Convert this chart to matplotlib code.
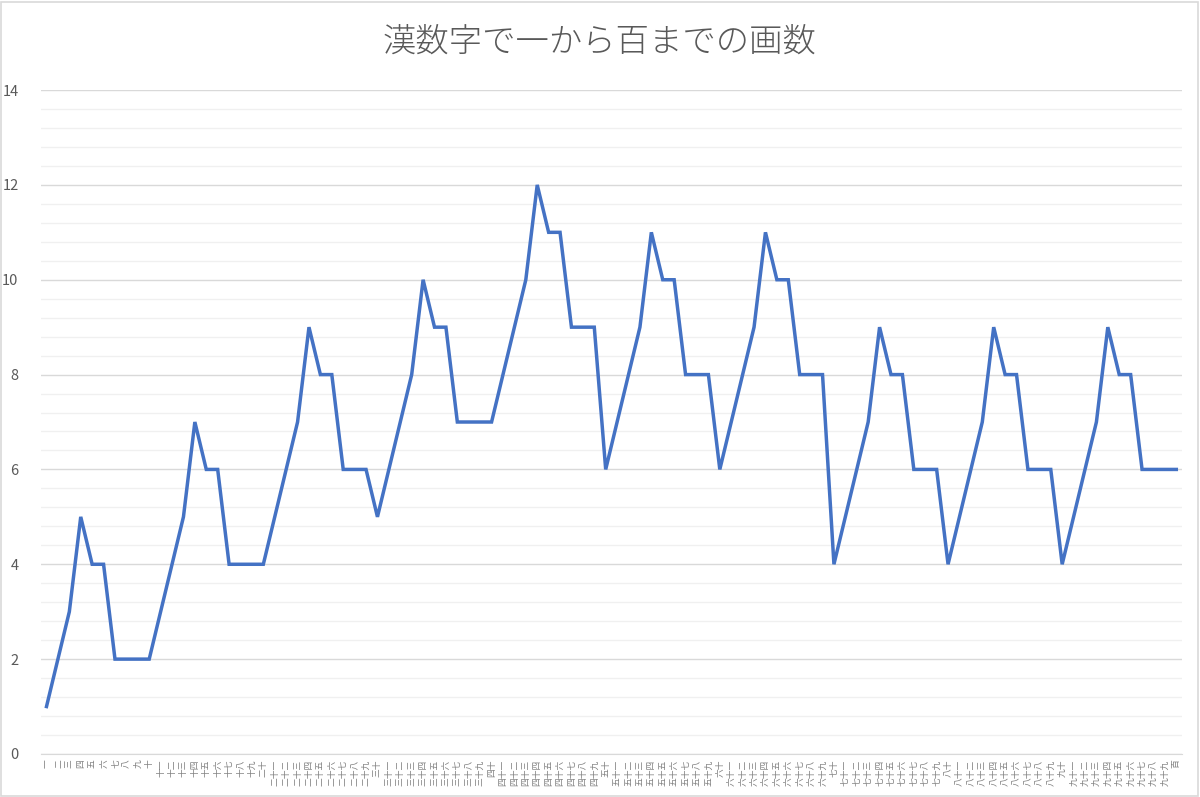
import numpy as np
import matplotlib.pyplot as plt
from matplotlib.patches import Rectangle

plt.rcParams['font.family'] = ['Noto Sans CJK JP', 'DejaVu Sans']

digits = ["", "一", "二", "三", "四", "五", "六", "七", "八", "九"]
labels = []
for n in range(1, 100):
    t, o = divmod(n, 10)
    s = ""
    if t > 0:
        s = ("" if t == 1 else digits[t]) + "十"
    s += digits[o]
    labels.append(s)
labels.append("百")

# stroke counts
strokes = [1, 2, 3, 5, 4, 4, 2, 2, 2, 2,
           3, 4, 5, 7, 6, 6, 4, 4, 4, 4,
           5, 6, 7, 9, 8, 8, 6, 6, 6, 5,
           6, 7, 8, 10, 9, 9, 7, 7, 7, 7,
           8, 9, 10, 12, 11, 11, 9, 9, 9, 6,
           7, 8, 9, 11, 10, 10, 8, 8, 8, 6,
           7, 8, 9, 11, 10, 10, 8, 8, 8, 4,
           5, 6, 7, 9, 8, 8, 6, 6, 6, 4,
           5, 6, 7, 9, 8, 8, 6, 6, 6, 4,
           5, 6, 7, 9, 8, 8, 6, 6, 6, 6]

fig = plt.figure(figsize=(12, 7.97), dpi=100)
ax = fig.add_axes([0.034, 0.054, 0.951, 0.833])

x = np.arange(1, 101)
ax.plot(x, strokes, color='#4472C4', lw=2.5, solid_joinstyle='miter', zorder=3)

ax.set_xlim(0.5, 100.5)
ax.set_ylim(0, 14)
ax.set_yticks(np.arange(0, 15, 2))
ax.set_yticks(np.arange(0, 14.01, 0.4), minor=True)
ax.grid(axis='y', which='major', color='#D9D9D9', lw=1)
ax.grid(axis='y', which='minor', color='#F0F0F0', lw=1)
ax.set_axisbelow(True)
for sp in ['top', 'right', 'left']:
    ax.spines[sp].set_visible(False)
ax.spines['bottom'].set_color('#D9D9D9')
ax.tick_params(axis='y', which='both', length=0, labelsize=10.5, labelcolor='#595959', pad=16)
ax.tick_params(axis='x', length=0, pad=4)
ax.set_xticks(x)
ax.set_xticklabels(labels, rotation=90, fontsize=6.3, color='#7F7F7F', va='top', ha='center')

fig.text(0.5, 0.947, "漢数字で一から百までの画数", ha='center', va='center',
         fontsize=24, color='#595959', fontweight='light')

fig.patches.append(Rectangle((0.001, 0.001), 0.997, 0.997, transform=fig.transFigure,
                             fill=False, edgecolor='#D9D9D9', lw=1.2))

fig.savefig('out.png', dpi=100)
